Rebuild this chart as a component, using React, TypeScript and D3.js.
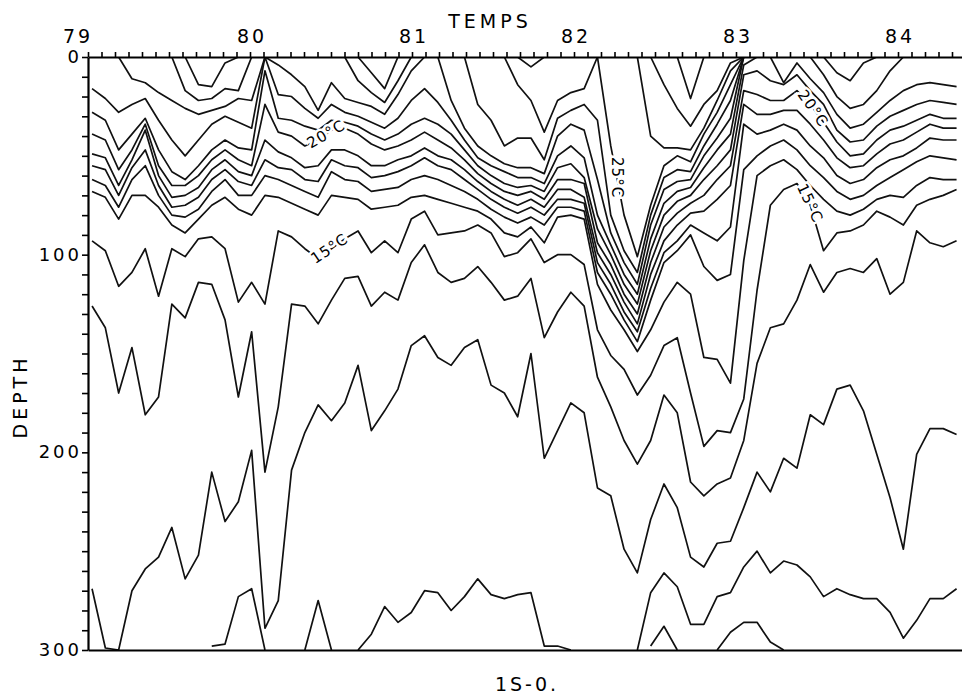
import React, { useRef, useEffect } from 'react';
import * as d3 from 'd3';

const _ = null;

// time of each cast in decimal years, casts are about one month apart
const castTimes = d3.range(66).map((k) => 79.025 + k * 0.0821);

const yearLabels = [79, 80, 81, 82, 83, 84];
const depthLabels = [0, 100, 200, 300];

// depth (m) of each isotherm at every cast, _ where the line is not drawn
const iso11 = [
  _, _, _, _, _, _, _, _, _, _,
  _, _, _, _, _, _, _, _, _, _,
  _, _, _, _, _, _, _, _, _, _,
  _, _, _, _, _, _, _, _, _, _,
  _, _, 298, 288, 300, _, _, 300, 291, 286,
  286, 296, 300, _, _, _, _, _, _, _,
  _, _, _, _, _, _,
];
const iso12 = [
  _, _, _, _, _, _, _, _, _, 298,
  297, 273, 269, 300, _, _, 300, 275, 300, _,
  300, 292, 278, 286, 281, 270, 271, 280, 273, 264,
  272, 274, 272, 271, 298, 298, 300, _, _, _,
  _, 300, 271, 261, 268, 287, 287, 273, 271, 258,
  250, 261, 255, 257, 263, 273, 269, 272, 274, 274,
  281, 294, 285, 274, 274, 269,
];
const iso13 = [
  269, 299, 300, 270, 259, 253, 238, 264, 252, 210,
  235, 225, 199, 289, 275, 209, 190, 176, 184, 175,
  156, 189, 179, 168, 146, 141, 152, 156, 147, 143,
  166, 170, 182, 150, 203, 189, 175, 180, 218, 222,
  249, 261, 234, 216, 228, 253, 258, 246, 245, 228,
  210, 220, 203, 208, 181, 186, 168, 166, 179, 201,
  223, 249, 201, 188, 188, 191,
];
const iso14 = [
  126, 137, 170, 147, 181, 172, 125, 132, 114, 115,
  133, 172, 139, 210, 177, 125, 126, 135, 123, 112,
  111, 126, 119, 123, 104, 95, 109, 114, 112, 106,
  114, 123, 121, 112, 142, 129, 119, 126, 162, 177,
  194, 206, 194, 171, 180, 215, 222, 216, 213, 194,
  155, 137, 135, 123, 105, 119, 109, 107, 109, 102,
  120, 114, 88, 94, 96, 93,
];
const iso15 = [
  93, 98, 116, 109, 97, 121, 97, 101, 92, 91,
  97, 124, 114, 125, 88, 91, 97, 102, 97, 92,
  88, 99, 93, 99, 82, 78, 90, 89, 88, 85,
  89, 101, 99, 92, 104, 100, 100, 105, 138, 151,
  158, 171, 161, 146, 142, 170, 197, 189, 190, 173,
  118, 75, 67, 64, 75, 98, 89, 88, 85, 78,
  81, 85, 75, 72, 70, 67,
];
const iso16 = [
  68, 71, 82, 70, 70, 76, 85, 89, 82, 75,
  71, 77, 80, 70, 71, 74, 77, 80, 70, 71,
  72, 77, 76, 75, 71, 70, 72, 74, 76, 78,
  82, 89, 91, 86, 94, 81, 80, 82, 115, 128,
  138, 149, 138, 124, 114, 120, 152, 153, 165, 103,
  60, 55, 52, 57, 65, 72, 78, 80, 77, 72,
  70, 71, 65, 61, 62, 62,
];
const iso17 = [
  62, 65, 76, 62, 55, 70, 80, 81, 77, 68,
  62, 70, 70, 60, 62, 65, 68, 71, 58, 62,
  63, 68, 67, 66, 62, 60, 62, 65, 68, 72,
  77, 81, 84, 81, 85, 76, 76, 78, 109, 120,
  133, 144, 123, 104, 98, 90, 106, 113, 110, 57,
  50, 45, 42, 47, 55, 61, 68, 72, 70, 65,
  61, 57, 53, 50, 51, 52,
];
const iso18 = [
  55, 57, 70, 56, 47, 65, 76, 75, 71, 62,
  57, 63, 65, 52, 56, 57, 62, 63, 52, 55,
  56, 61, 60, 58, 55, 51, 55, 57, 62, 67,
  72, 76, 79, 76, 80, 72, 72, 74, 104, 115,
  129, 139, 117, 99, 93, 85, 89, 93, 86, 34,
  39, 37, 34, 37, 45, 51, 60, 64, 62, 56,
  52, 50, 46, 41, 42, 42,
];
const iso19 = [
  49, 51, 65, 52, 37, 60, 71, 70, 66, 57,
  52, 58, 60, 42, 48, 51, 56, 55, 47, 47,
  50, 55, 55, 52, 50, 46, 50, 52, 57, 63,
  68, 72, 75, 72, 76, 67, 67, 71, 99, 110,
  124, 135, 110, 93, 85, 79, 78, 72, 65, 24,
  29, 29, 27, 27, 34, 42, 51, 56, 55, 49,
  44, 42, 38, 34, 36, 36,
];
const iso20 = [
  39, 42, 57, 47, 34, 55, 65, 65, 60, 52,
  47, 52, 55, 24, 38, 40, 45, 42, 37, 36,
  39, 44, 47, 45, 42, 38, 42, 46, 52, 59,
  64, 68, 70, 68, 72, 62, 62, 64, 94, 105,
  120, 130, 104, 86, 79, 74, 70, 62, 55, 17,
  19, 22, 22, 17, 24, 33, 43, 50, 49, 42,
  37, 35, 32, 29, 31, 31,
];
const iso21 = [
  28, 32, 47, 39, 31, 47, 58, 62, 55, 47,
  42, 46, 47, 7, 31, 32, 35, 37, 32, 33,
  35, 39, 42, 39, 34, 31, 34, 39, 47, 55,
  60, 64, 66, 65, 68, 56, 54, 61, 87, 100,
  115, 125, 98, 80, 73, 70, 62, 55, 47, 9,
  7, 12, 14, 9, 17, 24, 37, 43, 42, 35,
  30, 27, 24, 22, 23, 24,
];
const iso22 = [
  16, 21, 28, 24, 21, 32, 42, 50, 42, 34,
  30, 33, 36, 0, 19, 20, 26, 31, 24, 28,
  30, 33, 36, 31, 22, 16, 23, 32, 42, 51,
  55, 58, 61, 61, 64, 50, 45, 51, 80, 95,
  110, 120, 92, 74, 68, 66, 56, 47, 39, 4,
  0, 0, 13, 3, 11, 18, 29, 36, 34, 28,
  22, 17, 14, 13, 14, 15,
];
const iso23 = [
  _, _, 0, 11, 13, 18, 22, 26, 29, 27,
  25, 21, 22, 0, 4, 9, 15, 27, 13, 21,
  23, 25, 29, 19, 7, 0, 0, 22, 36, 45,
  50, 54, 56, 56, 59, 40, 34, 37, 62, 89,
  104, 115, 85, 67, 63, 62, 50, 41, 31, 0,
  0, 0, 0, 0, 0, 9, 20, 26, 24, 17,
  7, 0, _, _, _, _,
];
const iso24 = [
  _, _, _, _, _, _, 0, 17, 22, 21,
  16, 17, 0, _, _, _, _, _, _, 0,
  12, 18, 23, 12, 0, _, _, _, 0, 24,
  32, 45, 41, 41, 52, 31, 27, 24, 32, 80,
  98, 109, 80, 61, 57, 58, 45, 34, 22, 0,
  _, _, _, _, _, 0, 8, 12, 3, 0,
  _, _, _, _, _, _,
];
const iso25 = [
  _, _, _, _, _, _, _, 0, 14, 15,
  3, 0, _, _, _, _, _, _, _, _,
  0, 8, 16, 0, _, _, _, _, _, _,
  _, 0, 14, 22, 38, 22, 18, 16, 0, 45,
  80, 101, 75, 55, 50, 53, 39, 28, 14, 0,
  _, _, _, _, _, _, _, _, _, _,
  _, _, _, _, _, _,
];
const iso26 = [
  _, _, _, _, _, _, _, _, _, _,
  _, _, _, _, _, _, _, _, _, _,
  _, _, _, _, _, _, _, _, _, _,
  _, _, 0, 5, 0, _, _, _, _, _,
  _, 0, 40, 46, 46, 47, 36, 22, 7, 0,
  _, _, _, _, _, _, _, _, _, _,
  _, _, _, _, _, _,
];
const iso27 = [
  _, _, _, _, _, _, _, _, _, _,
  _, _, _, _, _, _, _, _, _, _,
  _, _, _, _, _, _, _, _, _, _,
  _, _, _, _, _, _, _, _, _, _,
  _, _, 0, 14, 26, 35, 24, 17, 3, 0,
  _, _, _, _, _, _, _, _, _, _,
  _, _, _, _, _, _,
];
const iso28 = [
  _, _, _, _, _, _, _, _, _, _,
  _, _, _, _, _, _, _, _, _, _,
  _, _, _, _, _, _, _, _, _, _,
  _, _, _, _, _, _, _, _, _, _,
  _, _, _, _, 0, 21, 0, _, _, _,
  _, _, _, _, _, _, _, _, _, _,
  _, _, _, _, _, _,
];

const isotherms = [
  iso11, iso12, iso13, iso14, iso15, iso16, iso17, iso18, iso19,
  iso20, iso21, iso22, iso23, iso24, iso25, iso26, iso27, iso28,
];

// labels written along some isotherms
const contourLabels = [
  { text: '20°C', time: 80.47, depth: 39, angle: -30 },
  { text: '15°C', time: 80.49, depth: 97, angle: -34 },
  { text: '25°C', time: 82.265, depth: 61, angle: 90 },
  { text: '20°C', time: 83.475, depth: 26, angle: 55 },
  { text: '15°C', time: 83.457, depth: 74, angle: 65 },
];

const FONT = 'DejaVu Sans';

const App = () => {
  const svgRef = useRef(null);

  useEffect(() => {
    const svg = d3.select(svgRef.current);
    svg.selectAll('*').remove();

    const x = d3.scaleLinear().domain([79, 84.4]).range([88, 962.8]);
    const y = d3.scaleLinear().domain([0, 300]).range([57, 650]);

    svg.append('defs').append('clipPath').attr('id', 'plot-area')
      .append('rect')
      .attr('x', x(79)).attr('y', y(0))
      .attr('width', x(84.4) - x(79)).attr('height', y(300) - y(0));

    // isotherms
    const line = d3.line()
      .defined((d) => d !== null)
      .x((d, i) => x(castTimes[i]))
      .y((d) => y(d));

    svg.append('g')
      .attr('clip-path', 'url(#plot-area)')
      .selectAll('path')
      .data(isotherms)
      .join('path')
      .attr('d', line)
      .attr('fill', 'none')
      .attr('stroke', '#111')
      .attr('stroke-width', 1.7)
      .attr('stroke-linejoin', 'round');

    // top time axis, one tick per month
    const months = d3.range(79, 84.4, 1 / 12);
    const top = svg.append('g')
      .attr('transform', `translate(0,${y(0)})`)
      .call(d3.axisTop(x).tickValues(months).tickSize(5).tickSizeOuter(0).tickFormat(() => ''));

    // left depth axis, one tick every 10 m
    const left = svg.append('g')
      .attr('transform', `translate(${x(79)},0)`)
      .call(d3.axisLeft(y).tickValues(d3.range(0, 301, 10)).tickSize(6).tickSizeOuter(0).tickFormat(() => ''));

    const bottom = svg.append('g')
      .attr('transform', `translate(0,${y(300)})`)
      .call(d3.axisBottom(x).tickValues([]).tickSizeOuter(0));

    [top, left, bottom].forEach((g) => {
      g.select('.domain').attr('stroke', '#000').attr('stroke-width', 2.2);
      g.selectAll('.tick line').attr('stroke', '#000').attr('stroke-width', 1.6);
    });

    // year labels
    svg.append('g')
      .selectAll('text')
      .data(yearLabels)
      .join('text')
      .attr('x', (d) => x(d) + (d === 79 ? -10 : 2))
      .attr('y', 43)
      .attr('text-anchor', 'middle')
      .attr('font-family', FONT)
      .attr('font-size', 19)
      .attr('letter-spacing', 3)
      .text((d) => d);

    // depth labels
    svg.append('g')
      .selectAll('text')
      .data(depthLabels)
      .join('text')
      .attr('x', 82)
      .attr('y', (d) => y(d) + 6)
      .attr('text-anchor', 'end')
      .attr('font-family', FONT)
      .attr('font-size', 18)
      .attr('letter-spacing', 3)
      .text((d) => d);

    // contour labels, white halo breaks the line under the text
    svg.append('g')
      .selectAll('text')
      .data(contourLabels)
      .join('text')
      .attr('transform', (d) => `translate(${x(d.time)},${y(d.depth)}) rotate(${d.angle})`)
      .attr('text-anchor', 'middle')
      .attr('dominant-baseline', 'central')
      .attr('font-family', FONT)
      .attr('font-size', 15)
      .attr('letter-spacing', 1)
      .attr('stroke', '#fff')
      .attr('stroke-width', 5)
      .attr('paint-order', 'stroke')
      .attr('fill', '#000')
      .text((d) => d.text);

    // titles
    svg.append('text')
      .attr('x', 490).attr('y', 28)
      .attr('text-anchor', 'middle')
      .attr('font-family', FONT).attr('font-size', 19).attr('letter-spacing', 4)
      .text('TEMPS');

    svg.append('text')
      .attr('transform', `translate(27,${(y(0) + y(300)) / 2 + 43}) rotate(-90)`)
      .attr('text-anchor', 'middle')
      .attr('font-family', FONT).attr('font-size', 19).attr('letter-spacing', 4)
      .text('DEPTH');

    svg.append('text')
      .attr('x', 527).attr('y', 691)
      .attr('text-anchor', 'middle')
      .attr('font-family', FONT).attr('font-size', 19).attr('letter-spacing', 3)
      .text('1S-0.');
  }, []);

  return (
    <svg
      ref={svgRef}
      width={962}
      height={696}
      style={{ position: 'absolute', left: 0, top: 0, background: '#fff', display: 'block' }}
    />
  );
};

export default App;
